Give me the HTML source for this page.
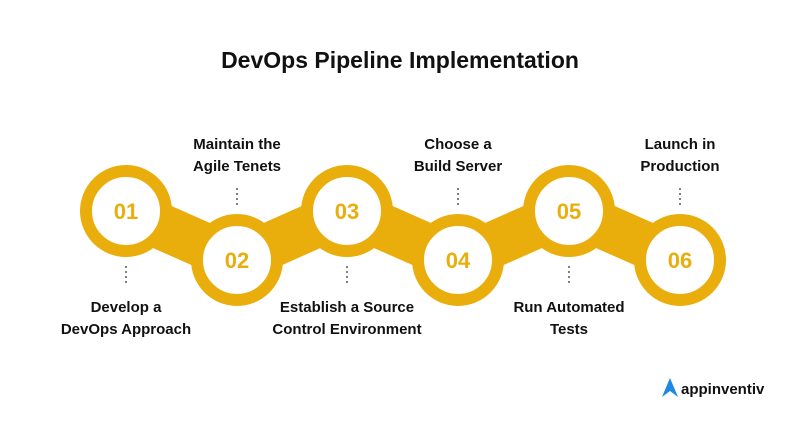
<!DOCTYPE html>
<html><head><meta charset="utf-8"><style>
body{margin:0;background:#fff;}
svg text{font-family:"Liberation Sans",Arial,sans-serif;}
</style></head><body>
<svg width="800" height="429" viewBox="0 0 800 429" xmlns="http://www.w3.org/2000/svg">
<rect width="800" height="429" fill="#fff"/>
<text x="400" y="68" text-anchor="middle" font-size="23" font-weight="bold" fill="#111">DevOps Pipeline Implementation</text>
<g fill="none" stroke="#E9AD0C" stroke-width="46" stroke-linejoin="round">
<polyline points="126,211 237,260 347,211 458,260 569,211 680,260"/>
</g>
<g fill="#fff" stroke="#E9AD0C" stroke-width="12">
<circle cx="126" cy="211" r="40"/>
<circle cx="237" cy="260" r="40"/>
<circle cx="347" cy="211" r="40"/>
<circle cx="458" cy="260" r="40"/>
<circle cx="569" cy="211" r="40"/>
<circle cx="680" cy="260" r="40"/>
</g>
<g fill="#E9AD0C" font-size="22" font-weight="bold" text-anchor="middle">
<text x="126" y="219">01</text>
<text x="237" y="268">02</text>
<text x="347" y="219">03</text>
<text x="458" y="268">04</text>
<text x="569" y="219">05</text>
<text x="680" y="268">06</text>
</g>
<g stroke="#555" stroke-width="1.5" stroke-dasharray="2,3">
<line x1="237" y1="188" x2="237" y2="206"/>
<line x1="458" y1="188" x2="458" y2="206"/>
<line x1="680" y1="188" x2="680" y2="206"/>
<line x1="126" y1="266" x2="126" y2="284"/>
<line x1="347" y1="266" x2="347" y2="284"/>
<line x1="569" y1="266" x2="569" y2="284"/>
</g>
<g fill="#111" font-size="15" font-weight="bold" text-anchor="middle">
<text x="237" y="149">Maintain the</text><text x="237" y="171">Agile Tenets</text>
<text x="458" y="149">Choose a</text><text x="458" y="171">Build Server</text>
<text x="680" y="149">Launch in</text><text x="680" y="171">Production</text>
<text x="126" y="312">Develop a</text><text x="126" y="334">DevOps Approach</text>
<text x="347" y="312">Establish a Source</text><text x="347" y="334">Control Environment</text>
<text x="569" y="312">Run Automated</text><text x="569" y="334">Tests</text>
</g>
<path d="M662,397 L670,378 L678,397 L670,391 Z" fill="#1E88E5"/>
<text x="681" y="394" font-size="15" font-weight="bold" fill="#111">appinventiv</text>
</svg>
</body></html>
